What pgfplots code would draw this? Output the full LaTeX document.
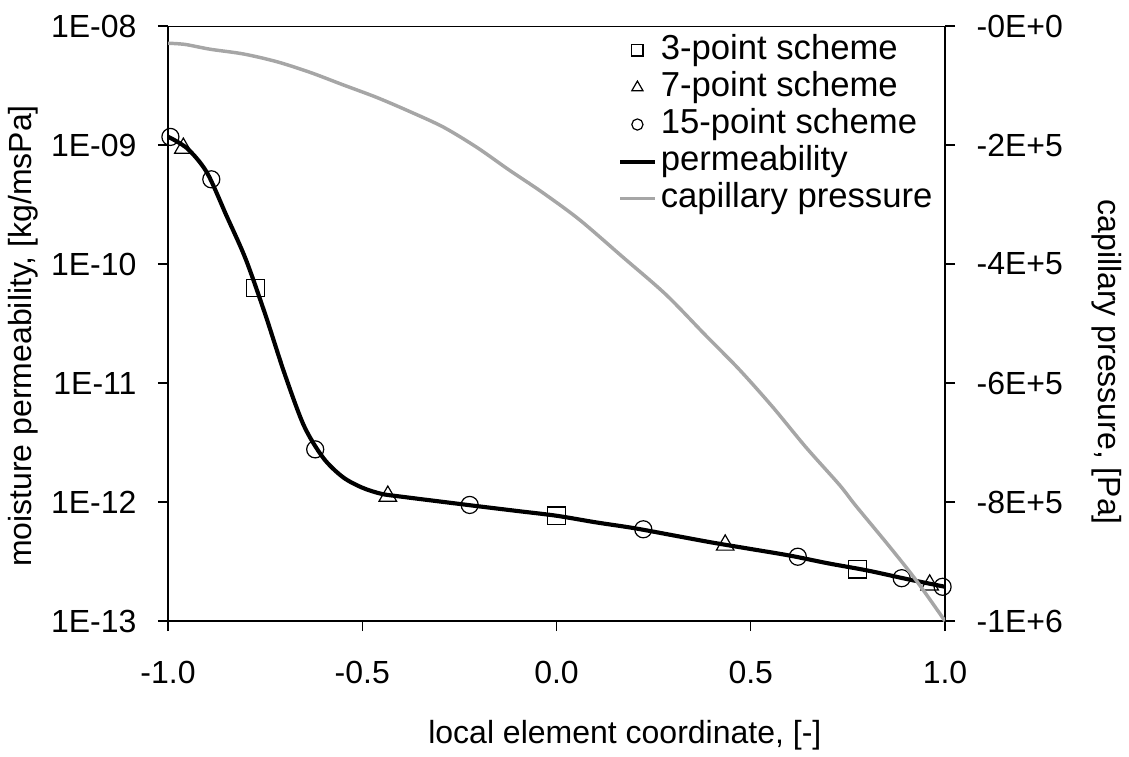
\documentclass[12pt,border=0pt]{standalone}
\usepackage{fontspec}
\setmainfont{Liberation Sans}
\usepackage{pgfplots}
\pgfplotsset{compat=1.18}

\definecolor{capgray}{RGB}{166,166,166}
\newcommand{\legfont}{\fontsize{13}{15.6}\selectfont}

\pgfplotsset{
  common/.style={
    scale only axis,
    width=291.375pt, height=223.125pt,
    at={(0,0)}, anchor=south west,
    xmin=-1, xmax=1,
    tick align=outside,
    major tick length=3.75pt,
    tick style={line width=0.45pt, black},
    axis line style={-, line width=0.75pt},
    tick label style={font=\normalsize},
    label style={font=\normalsize},
  },
}

\begin{document}
\begin{tikzpicture}
\useasboundingbox (-63pt,-50.625pt) rectangle (360.375pt,232.875pt);

% left axis: permeability (log)
\begin{axis}[
  common,
  ymode=log,
  ymin=1e-13, ymax=1e-8,
  axis x line*=bottom,
  axis y line*=left,
  xtick={-1,-0.5,0,0.5,1},
  xticklabels={-1.0,-0.5,0.0,0.5,1.0},
  ytick={1e-13,1e-12,1e-11,1e-10,1e-9,1e-8},
  yticklabels={1E-13,1E-12,1E-11,1E-10,1E-09,1E-08},
  yminorticks=false,
  xticklabel style={yshift=-7pt},
  yticklabel style={xshift=-3.9pt},
  xlabel={local element coordinate, [-]},
  ylabel={moisture permeability, [kg/msPa]},
  x label style={at={(axis description cs:0.588,-0.1916)}, anchor=center},
  y label style={at={(axis description cs:-0.186,0.479)}, anchor=center},
]
\draw[line width=0.4pt] (rel axis cs:0,1) -- (rel axis cs:1,1);

\addplot[black, line width=1.55pt, smooth] coordinates {
  (-1.00,1.175e-9) (-0.95,9.33e-10) (-0.90,5.89e-10) (-0.85,2.57e-10)
  (-0.80,1.10e-10) (-0.75,3.80e-11) (-0.70,1.20e-11) (-0.65,4.37e-12)
  (-0.60,2.34e-12) (-0.55,1.62e-12) (-0.50,1.32e-12) (-0.45,1.17e-12)
  (-0.40,1.11e-12) (-0.30,1.01e-12) (-0.20,9.2e-13) (-0.10,8.4e-13)
  (0.00,7.67e-13) (0.10,6.76e-13) (0.20,6.03e-13) (0.30,5.25e-13)
  (0.40,4.57e-13) (0.50,4.03e-13) (0.60,3.55e-13) (0.70,3.05e-13)
  (0.80,2.66e-13) (0.90,2.26e-13) (1.00,1.94e-13)
};

% 3-point scheme
\addplot[only marks, mark=square, mark size=3.3pt, mark options={black, line width=0.45pt}] coordinates {
  (-0.7746,6.3e-11) (0,7.67e-13) (0.7746,2.73e-13)
};
% 7-point scheme
\addplot[only marks, mark=triangle, mark size=3.8pt, mark options={black, line width=0.45pt}] coordinates {
  (-0.9605,9.4e-10) (-0.4342,1.12e-12) (0.4342,4.35e-13) (0.9605,2.01e-13)
};
% 15-point scheme
\addplot[only marks, mark=o, mark size=3.2pt, mark options={black, line width=0.45pt}] coordinates {
  (-0.9938,1.17e-9) (-0.8885,5.15e-10) (-0.6211,2.77e-12) (-0.2234,9.45e-13)
  (0.2234,5.9e-13) (0.6211,3.47e-13) (0.8885,2.29e-13) (0.9938,1.94e-13)
};
\end{axis}

% right axis: capillary pressure
\begin{axis}[
  common,
  ymin=-1000000, ymax=0,
  axis x line=none,
  axis y line*=right,
  ytick={-1000000,-800000,-600000,-400000,-200000,0},
  yticklabels={-1E+6,-8E+5,-6E+5,-4E+5,-2E+5,-0E+0},
  scaled y ticks=false,
  yticklabel style={xshift=3.9pt},
  ylabel={capillary pressure, [Pa]},
  y label style={at={(axis description cs:1.2085,0.435)}, anchor=center, rotate=180},
  legend style={draw=none, fill=none, at={(rel axis cs:1.0,1.0)}, anchor=north east,
    font=\legfont, row sep=0pt,
    nodes={inner xsep=1.5pt, inner ysep=0.7pt, text height=9.5pt, text depth=3pt}},
  legend cell align=left,
  legend image code/.code={
    \draw[mark repeat=2,mark phase=2,#1] plot coordinates {(0pt,0pt) (6.5pt,0pt) (13pt,0pt)};
  },
]
\addlegendimage{only marks, mark=square, mark size=2.1pt, mark options={black, line width=0.45pt}}
\addlegendentry{3-point scheme}
\addlegendimage{only marks, mark=triangle, mark size=2.4pt, mark options={black, line width=0.45pt}}
\addlegendentry{7-point scheme}
\addlegendimage{only marks, mark=o, mark size=2.1pt, mark options={black, line width=0.45pt}}
\addlegendentry{15-point scheme}
\addlegendimage{black, line width=1.55pt}
\addlegendentry{permeability}

\addplot[capgray, line width=1.3pt, smooth] coordinates {
  (-1.000,-29000) (-0.956,-31000) (-0.892,-39000) (-0.806,-47000)
  (-0.720,-60000) (-0.634,-78000) (-0.549,-99000) (-0.463,-120000)
  (-0.377,-144000) (-0.291,-170000) (-0.205,-204000) (-0.122,-242000)
  (-0.040,-278000) (0.058,-325000) (0.170,-388000) (0.281,-451000)
  (0.384,-520000) (0.470,-577000) (0.556,-640000) (0.642,-708000)
  (0.728,-771000) (0.770,-806000) (0.856,-874000) (0.925,-931000)
  (1.000,-1000000)
};
\addlegendentry{capillary pressure}
\end{axis}
\end{tikzpicture}
\end{document}
